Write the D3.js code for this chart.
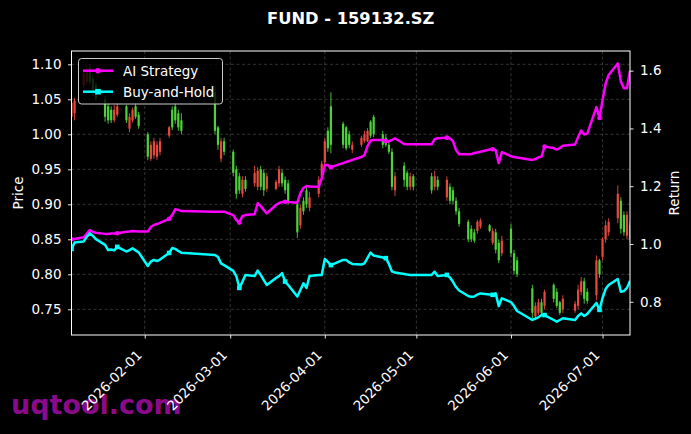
<!DOCTYPE html>
<html><head><meta charset="utf-8">
<script src="https://cdn.jsdelivr.net/npm/d3@7"></script>
<style>html,body{margin:0;padding:0;background:#000;} svg{display:block;font-family:"DejaVu Sans",sans-serif;}</style>
</head><body><svg id="c" width="691" height="434"></svg>
<script>
const title = "FUND - 159132.SZ";
const dates = [
"01-08","01-09","01-12","01-13","01-14","01-15","01-16","01-19","01-20","01-21","01-22","01-23","01-26","01-27","01-28","01-29","01-30",
"02-02","02-03","02-04","02-05","02-06","02-09","02-10","02-11","02-12","02-13","02-24","02-25","02-26","02-27",
"03-02","03-03","03-04","03-05","03-06","03-09","03-10","03-11","03-12","03-13","03-16","03-17","03-18","03-19","03-20","03-23","03-24","03-25","03-26","03-27","03-30","03-31",
"04-01","04-02","04-03","04-07","04-08","04-09","04-10","04-13","04-14","04-15","04-16","04-17","04-20","04-21","04-22","04-23","04-24","04-27","04-28","04-29","04-30",
"05-06","05-07","05-08","05-11","05-12","05-13","05-14","05-15","05-18","05-19","05-20","05-21","05-22","05-25","05-26","05-27","05-28","05-29",
"06-01","06-02","06-03","06-08","06-09","06-10","06-11","06-12","06-15","06-16","06-17","06-18","06-22","06-23","06-24","06-25","06-26","06-29","06-30",
"07-01","07-02","07-03","07-06","07-07","07-08","07-09","07-10"];
const openP = [
1.025,1.030,1.070,1.075,1.095,1.080,1.070,1.050,1.040,1.035,1.020,1.028,1.040,1.008,1.020,1.040,1.028,
1.000,0.965,0.970,0.968,0.975,0.998,1.035,1.040,1.030,1.020,1.060,1.010,0.965,0.990,
0.975,0.950,0.940,0.915,0.935,0.930,0.925,0.950,0.945,0.922,0.922,0.930,0.945,0.935,0.930,0.900,0.870,0.905,0.920,0.895,0.915,0.940,
0.960,1.005,1.040,1.015,1.010,1.000,0.978,0.985,0.990,0.990,1.018,1.025,1.000,0.995,0.985,0.975,0.920,0.955,0.945,0.925,0.940,
0.940,0.925,0.935,0.910,0.925,0.920,0.905,0.890,0.875,0.865,0.860,0.862,0.868,0.870,0.845,0.860,0.845,0.830,
0.865,0.830,0.820,0.780,0.740,0.745,0.760,0.755,0.785,0.775,0.760,0.750,0.748,0.755,0.775,0.790,0.775,0.770,0.820,
0.825,0.850,0.860,0.880,0.905,0.885,0.855,0.850];
const highP = [
1.052,1.052,1.092,1.098,1.100,1.085,1.075,1.055,1.045,1.040,1.042,1.045,1.042,1.030,1.038,1.045,1.032,
1.003,0.990,0.995,0.990,0.995,1.012,1.040,1.045,1.035,1.030,1.068,1.012,0.995,0.995,
0.978,0.955,0.945,0.940,0.940,0.955,0.953,0.955,0.950,0.945,0.935,0.955,0.950,0.940,0.935,0.905,0.900,0.910,0.925,0.918,0.940,0.962,
0.995,1.010,1.060,1.018,1.012,1.005,0.990,0.998,1.005,1.009,1.020,1.028,1.005,1.000,0.990,0.980,0.946,0.960,0.948,0.945,0.943,
0.945,0.948,0.940,0.940,0.930,0.925,0.910,0.895,0.878,0.870,0.865,0.878,0.880,0.872,0.866,0.865,0.850,0.855,
0.872,0.835,0.825,0.785,0.760,0.765,0.765,0.778,0.787,0.780,0.762,0.770,0.762,0.785,0.796,0.795,0.780,0.827,0.822,
0.853,0.877,0.880,0.927,0.910,0.890,0.890,0.875];
const lowP = [
1.016,1.020,1.066,1.070,1.072,1.055,1.048,1.018,1.015,1.016,1.017,1.025,1.016,1.003,1.017,1.022,1.008,
0.963,0.962,0.965,0.963,0.970,0.995,1.006,1.015,1.005,1.000,1.000,0.978,0.960,0.970,
0.940,0.908,0.915,0.910,0.918,0.925,0.920,0.920,0.912,0.918,0.920,0.925,0.925,0.915,0.900,0.852,0.865,0.885,0.895,0.890,0.910,0.935,
0.955,0.975,0.973,0.980,0.977,0.980,0.973,0.982,0.988,0.989,0.995,0.996,0.980,0.982,0.972,0.920,0.912,0.925,0.920,0.920,0.920,
0.915,0.920,0.920,0.905,0.900,0.900,0.885,0.868,0.846,0.846,0.845,0.858,0.865,0.860,0.842,0.830,0.816,0.826,
0.825,0.800,0.796,0.737,0.735,0.742,0.740,0.750,0.760,0.752,0.742,0.745,0.745,0.750,0.770,0.758,0.758,0.763,0.795,
0.820,0.845,0.855,0.873,0.858,0.855,0.850,0.845];
const closeP = [
1.045,1.048,1.088,1.090,1.075,1.060,1.052,1.025,1.020,1.020,1.035,1.040,1.020,1.025,1.035,1.025,1.012,
0.968,0.985,0.990,0.985,0.990,1.010,1.010,1.020,1.010,1.005,1.005,0.985,0.990,0.975,
0.945,0.915,0.920,0.935,0.922,0.945,0.948,0.925,0.920,0.940,0.932,0.950,0.930,0.920,0.905,0.860,0.895,0.890,0.900,0.910,0.935,0.958,
0.990,0.980,0.985,0.985,0.980,0.985,0.985,0.995,1.000,1.005,0.998,1.000,0.985,0.985,0.975,0.925,0.940,0.935,0.925,0.940,0.925,
0.920,0.940,0.925,0.935,0.905,0.905,0.890,0.872,0.850,0.850,0.848,0.875,0.877,0.862,0.862,0.835,0.820,0.848,
0.830,0.805,0.800,0.745,0.755,0.760,0.745,0.775,0.765,0.755,0.745,0.765,0.758,0.778,0.790,0.765,0.762,0.820,0.800,
0.850,0.870,0.875,0.915,0.865,0.860,0.885,0.870];
const aiStrategy = [
1.016,1.017,1.023,1.035,1.048,1.042,1.039,1.035,1.035,1.036,1.036,1.037,1.042,1.043,1.045,1.044,1.043,
1.043,1.059,1.066,1.069,1.073,1.087,1.100,1.120,1.118,1.114,1.112,1.112,1.112,1.112,
1.100,1.083,1.074,1.097,1.100,1.103,1.141,1.131,1.118,1.106,1.135,1.142,1.145,1.146,1.145,1.143,1.176,1.194,1.201,1.199,1.198,1.228,
1.273,1.273,1.266,1.280,1.284,1.287,1.291,1.301,1.308,1.339,1.358,1.360,1.360,1.356,1.355,1.360,1.366,1.346,1.345,1.345,1.345,
1.345,1.363,1.366,1.368,1.365,1.356,1.325,1.311,1.311,1.311,1.315,1.317,1.319,1.327,1.328,1.324,1.280,1.318,
1.304,1.301,1.299,1.291,1.294,1.300,1.302,1.337,1.332,1.327,1.332,1.340,1.344,1.370,1.393,1.379,1.382,1.474,1.436,
1.498,1.554,1.585,1.625,1.562,1.539,1.539,1.599];
const buyHold = [
0.983,1.005,1.009,1.024,1.037,1.028,1.017,0.997,0.979,0.981,0.978,0.990,0.974,0.979,0.985,0.978,0.971,
0.924,0.939,0.945,0.941,0.946,0.969,0.986,0.983,0.976,0.970,0.962,0.955,0.933,0.927,
0.907,0.889,0.848,0.869,0.893,0.889,0.908,0.893,0.875,0.858,0.882,0.889,0.899,0.870,0.858,0.818,0.841,0.864,0.848,0.889,0.893,0.893,
0.948,0.938,0.927,0.945,0.945,0.936,0.931,0.929,0.933,0.952,0.970,0.960,0.953,0.951,0.931,0.905,0.901,0.896,0.894,0.893,0.893,
0.893,0.904,0.889,0.893,0.884,0.869,0.851,0.839,0.820,0.817,0.818,0.825,0.829,0.825,0.824,0.829,0.785,0.812,
0.799,0.785,0.768,0.737,0.742,0.746,0.754,0.754,0.737,0.731,0.737,0.743,0.737,0.751,0.760,0.751,0.758,0.796,0.772,
0.813,0.844,0.858,0.879,0.835,0.837,0.848,0.872];
const priceTicks = [0.75,0.80,0.85,0.90,0.95,1.00,1.05,1.10];
const returnTicks = [0.8,1.0,1.2,1.4,1.6];
const dateTicks = ["2026-02-01","2026-03-01","2026-04-01","2026-05-01","2026-06-01","2026-07-01"];
const seriesNames = ["AI Strategy","Buy-and-Hold"];

const L=71.5, R=630, T=51, B=335;
const FS = 13.5;
const svg = d3.select("#c");
svg.append("rect").attr("width",691).attr("height",434).attr("fill","#000");

const parse = d3.timeParse("%Y-%m-%d");
const dt = dates.map(d=>parse("2026-"+d));
const x = d3.scaleTime().domain([dt[0], dt[dt.length-1]]).range([L,R]);
const yL = d3.scaleLinear().domain([0.7133,1.119]).range([B,T]);
const yR = d3.scaleLinear().domain([0.685,1.668]).range([B,T]);

// watermark
svg.append("text").attr("x",11).attr("y",414).attr("font-size",27).attr("font-weight","bold")
  .attr("fill","#8b0a8b").text("uqtool.com");

svg.append("defs").append("clipPath").attr("id","clip").append("rect")
  .attr("x",L).attr("y",T).attr("width",R-L).attr("height",B-T);

// grid
const grid = svg.append("g").attr("stroke","#555").attr("stroke-width",0.6).attr("stroke-dasharray","3,2.5");
priceTicks.forEach(v=>grid.append("line").attr("x1",L).attr("x2",R).attr("y1",yL(v)).attr("y2",yL(v)));
dateTicks.forEach(d=>{const xx=x(parse(d));grid.append("line").attr("x1",xx).attr("x2",xx).attr("y1",T).attr("y2",B);});

// candles
const UP="#e8493f", DOWN="#4dd23c";
const cg = svg.append("g").attr("clip-path","url(#clip)");
dt.forEach((d,i)=>{
  const col = closeP[i]>=openP[i]?UP:DOWN;
  const xx = x(d);
  cg.append("line").attr("x1",xx).attr("x2",xx).attr("y1",yL(highP[i])).attr("y2",yL(lowP[i]))
    .attr("stroke",col).attr("stroke-width",0.9);
  const y0=yL(Math.max(openP[i],closeP[i])), y1=yL(Math.min(openP[i],closeP[i]));
  cg.append("rect").attr("x",xx-1.1).attr("width",2.2).attr("y",y0).attr("height",Math.max(0.8,y1-y0)).attr("fill",col);
});

// lines
const lg = svg.append("g").attr("clip-path","url(#clip)");
const lineGen = arr => d3.line().x((d,i)=>x(dt[i])).y(d=>yR(d))(arr);
lg.append("path").attr("d",lineGen(aiStrategy)).attr("fill","none").attr("stroke","#ff00ff").attr("stroke-width",2.5).attr("stroke-linejoin","round");
lg.append("path").attr("d",lineGen(buyHold)).attr("fill","none").attr("stroke","#00ffff").attr("stroke-width",2.5).attr("stroke-linejoin","round");
dt.forEach((d,i)=>{
  if(i%11!==0) return;
  lg.append("circle").attr("cx",x(d)).attr("cy",yR(aiStrategy[i])).attr("r",2.3).attr("fill","#ff00ff");
  lg.append("rect").attr("x",x(d)-2.3).attr("y",yR(buyHold[i])-2.3).attr("width",4.6).attr("height",4.6).attr("fill","#00ffff");
});

// axes
const axL = svg.append("g").attr("transform",`translate(${L},0)`)
  .call(d3.axisLeft(yL).tickValues(priceTicks).tickFormat(d3.format(".2f")).tickSize(3.5).tickPadding(6.5));
const axR = svg.append("g").attr("transform",`translate(${R},0)`)
  .call(d3.axisRight(yR).tickValues(returnTicks).tickFormat(d3.format(".1f")).tickSize(3.5).tickPadding(6.5));
const axB = svg.append("g").attr("transform",`translate(0,${B})`)
  .call(d3.axisBottom(x).tickValues(dateTicks.map(parse)).tickFormat("").tickSize(3.5));
[axL,axR,axB].forEach(a=>{
  a.select(".domain").remove();
  a.selectAll(".tick line").attr("stroke","#fff").attr("stroke-width",0.9);
  a.selectAll(".tick text").attr("fill","#fff").attr("font-size",FS).attr("font-family","DejaVu Sans");
});
dateTicks.forEach(d=>{
  const xx = x(parse(d));
  svg.append("text").attr("transform",`translate(${xx-2},356) rotate(-45)`).attr("text-anchor","end")
    .attr("fill","#fff").attr("font-size",FS).text(d);
});

// frame
svg.append("rect").attr("x",L).attr("y",T).attr("width",R-L).attr("height",B-T)
  .attr("fill","none").attr("stroke","#fff").attr("stroke-width",1);

// axis labels
svg.append("text").attr("transform",`translate(22.5,${(T+B)/2}) rotate(-90)`).attr("text-anchor","middle")
  .attr("fill","#fff").attr("font-size",FS).text("Price");
svg.append("text").attr("transform",`translate(679,${(T+B)/2}) rotate(-90)`).attr("text-anchor","middle")
  .attr("fill","#fff").attr("font-size",FS).text("Return");

// title
svg.append("text").attr("x",(L+R)/2).attr("y",24).attr("text-anchor","middle").attr("fill","#fff")
  .attr("font-size",16.3).attr("font-weight","bold").text(title);

// legend
const leg = svg.append("g");
leg.append("rect").attr("x",78.5).attr("y",58.5).attr("width",144).attr("height",45.5).attr("rx",3)
  .attr("fill","#000").attr("fill-opacity",0.8).attr("stroke","#cccccc").attr("stroke-width",1);
const legCols = ["#ff00ff","#00ffff"];
seriesNames.forEach((n,i)=>{
  const yy = 70.7 + i*21;
  leg.append("line").attr("x1",83).attr("x2",113).attr("y1",yy).attr("y2",yy).attr("stroke",legCols[i]).attr("stroke-width",2.5);
  if(i===0) leg.append("circle").attr("cx",98).attr("cy",yy).attr("r",2.8).attr("fill",legCols[i]);
  else leg.append("rect").attr("x",95.2).attr("y",yy-2.8).attr("width",5.6).attr("height",5.6).attr("fill",legCols[i]);
  leg.append("text").attr("x",123).attr("y",yy+5).attr("fill","#fff").attr("font-size",FS).text(n);
});
</script></body></html>
